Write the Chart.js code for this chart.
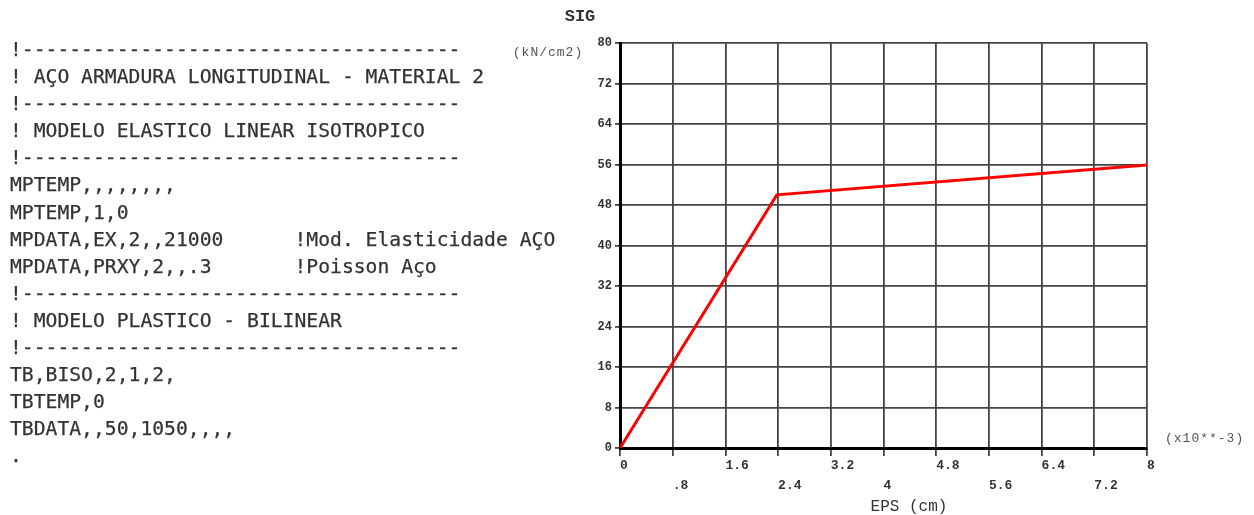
<!DOCTYPE html>
<html>
<head>
<meta charset="utf-8">
<script src="https://cdn.jsdelivr.net/npm/chart.js@4.4.1/dist/chart.umd.min.js"></script>
<style>
  html, body { margin: 0; padding: 0; background: #fff; }
  #wrap { position: relative; width: 1254px; height: 515px; overflow: hidden; }
  #chart { position: absolute; left: 0; top: 0; }
  #listing {
    position: absolute; left: 10px; top: 36px; margin: 0;
    font-family: "DejaVu Sans Mono", monospace; font-size: 19.7px;
    line-height: 27.1px; color: #333; z-index: 2;
    -webkit-text-stroke: 0.25px #333;
  }
</style>
</head>
<body>
<div id="wrap">
  <canvas id="chart" width="1254" height="515"></canvas>
  <pre id="listing"></pre>
</div>
<script>
// Input listing shown beside the chart
const listingLines = [
  '!-------------------------------------',
  '! AÇO ARMADURA LONGITUDINAL - MATERIAL 2',
  '!-------------------------------------',
  '! MODELO ELASTICO LINEAR ISOTROPICO',
  '!-------------------------------------',
  'MPTEMP,,,,,,,,',
  'MPTEMP,1,0',
  'MPDATA,EX,2,,21000      !Mod. Elasticidade AÇO',
  'MPDATA,PRXY,2,,.3       !Poisson Aço',
  '!-------------------------------------',
  '! MODELO PLASTICO - BILINEAR',
  '!-------------------------------------',
  'TB,BISO,2,1,2,',
  'TBTEMP,0',
  'TBDATA,,50,1050,,,,',
  '.'
];
document.getElementById('listing').textContent = listingLines.join('\n');

// Bilinear stress-strain curve (EPS x10^-3, SIG kN/cm2)
const epsValues = [0, 2.38, 8];
const sigValues = [0, 50, 55.9];

const xTickLabels = ['0', '.8', '1.6', '2.4', '3.2', '4', '4.8', '5.6', '6.4', '7.2', '8'];
const yTickLabels = ['0', '8', '16', '24', '32', '40', '48', '56', '64', '72', '80'];

const points = epsValues.map((x, i) => ({ x: x, y: sigValues[i] }));

// Extra labels drawn around the plot (SIG, units, EPS)
const axisText = {
  id: 'axisText',
  afterDraw(chart) {
    const ctx = chart.ctx;
    const a = chart.chartArea;
    ctx.save();
    ctx.fillStyle = '#333';
    ctx.textBaseline = 'middle';
    ctx.textAlign = 'center';
    ctx.font = 'bold 17px "Liberation Mono"';
    ctx.fillText('SIG', a.left - 40, 17);
    ctx.font = '13px "Liberation Mono"';
    ctx.fillStyle = '#555';
    ctx.letterSpacing = '1px';
    ctx.fillText('(kN/cm2)', a.left - 72, 53);
    ctx.textAlign = 'left';
    ctx.fillText('(x10**-3)', a.right + 18, a.bottom - 9);
    ctx.letterSpacing = '0px';
    ctx.textAlign = 'center';
    ctx.font = '16px "Liberation Mono"';
    ctx.fillStyle = '#333';
    ctx.fillText('EPS (cm)', a.left + 289, 507);
    ctx.restore();
  }
};

new Chart(document.getElementById('chart'), {
  type: 'line',
  data: {
    datasets: [{
      data: points,
      borderColor: '#ff0000',
      borderWidth: 3,
      pointRadius: 0,
      tension: 0
    }]
  },
  options: {
    responsive: false,
    animation: false,
    layout: { padding: { top: 43, right: 107, left: 0, bottom: 0 } },
    plugins: { legend: { display: false }, tooltip: { enabled: false } },
    scales: {
      x: {
        type: 'linear',
        min: 0,
        max: 8,
        afterFit(scale) { scale.height = 67; },
        ticks: {
          stepSize: 0.8,
          align: 'start',
          padding: 0,
          maxRotation: 0,
          autoSkip: false,
          color: '#333',
          font: { family: 'Liberation Mono', size: 13, weight: 'bold', lineHeight: '20px' },
          callback: (v, i) => (i % 2 === 1 ? ['', xTickLabels[i]] : xTickLabels[i])
        },
        grid: { color: '#444', lineWidth: 1.8, tickLength: 8, tickColor: '#444' },
        border: { color: '#000', width: 3 }
      },
      y: {
        min: 0,
        max: 80,
        afterFit(scale) { scale.width = 620; },
        ticks: {
          stepSize: 8,
          padding: 3,
          color: '#333',
          font: { family: 'Liberation Mono', size: 12, weight: 'bold' },
          callback: (v, i) => yTickLabels[i]
        },
        grid: { color: '#444', lineWidth: 1.8, tickLength: 5, tickColor: '#444' },
        border: { color: '#000', width: 3 }
      }
    }
  },
  plugins: [axisText]
});
</script>
</body>
</html>
